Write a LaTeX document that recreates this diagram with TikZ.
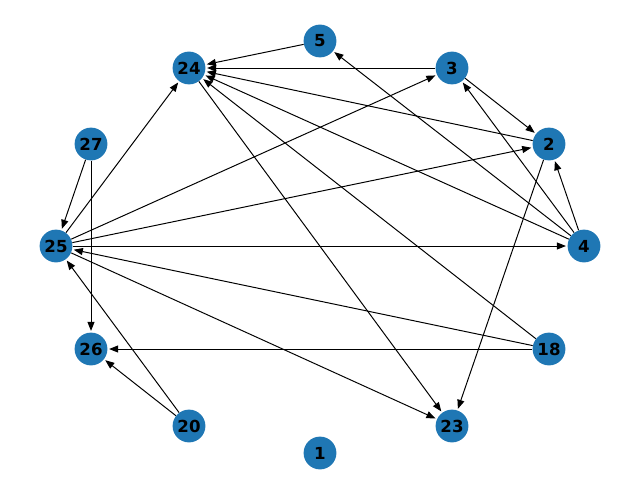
\documentclass[tikz,border=0pt]{standalone}
\usepackage{fontspec}
\setmainfont{DejaVu Sans}
\usetikzlibrary{arrows.meta}
\definecolor{nodeblue}{HTML}{1F77B4}

\begin{document}
\begin{tikzpicture}[>={Triangle[length=6.5pt,width=5pt]}, edge/.style={->, line width=0.7pt, shorten >=1pt}]
\tikzstyle{vertex}=[circle, fill=nodeblue, minimum size=0.82cm, inner sep=0pt, font=\fontsize{11.8}{12}\selectfont\bfseries]
\useasboundingbox (0,0) rectangle (16,12);
\node[vertex] (n5) at (8.0,10.975) {5};
\node[vertex] (n24) at (4.725,10.3) {24};
\node[vertex] (n3) at (11.3,10.3) {3};
\node[vertex] (n27) at (2.275,8.4) {27};
\node[vertex] (n2) at (13.725,8.4) {2};
\node[vertex] (n25) at (1.4,5.85) {25};
\node[vertex] (n4) at (14.6,5.85) {4};
\node[vertex] (n26) at (2.275,3.275) {26};
\node[vertex] (n18) at (13.725,3.275) {18};
\node[vertex] (n20) at (4.725,1.35) {20};
\node[vertex] (n23) at (11.3,1.35) {23};
\node[vertex] (n1) at (8.0,0.675) {1};
\foreach \i/\j in {n5/n24,n3/n24,n3/n2,n2/n24,n2/n23,n4/n24,n4/n5,n4/n3,n4/n2,n18/n24,n18/n26,n18/n25,n25/n24,n25/n3,n25/n2,n25/n4,n25/n23,n24/n23,n27/n25,n27/n26,n20/n25,n20/n26}{\draw[edge] (\i) -- (\j);}
\end{tikzpicture}
\end{document}
